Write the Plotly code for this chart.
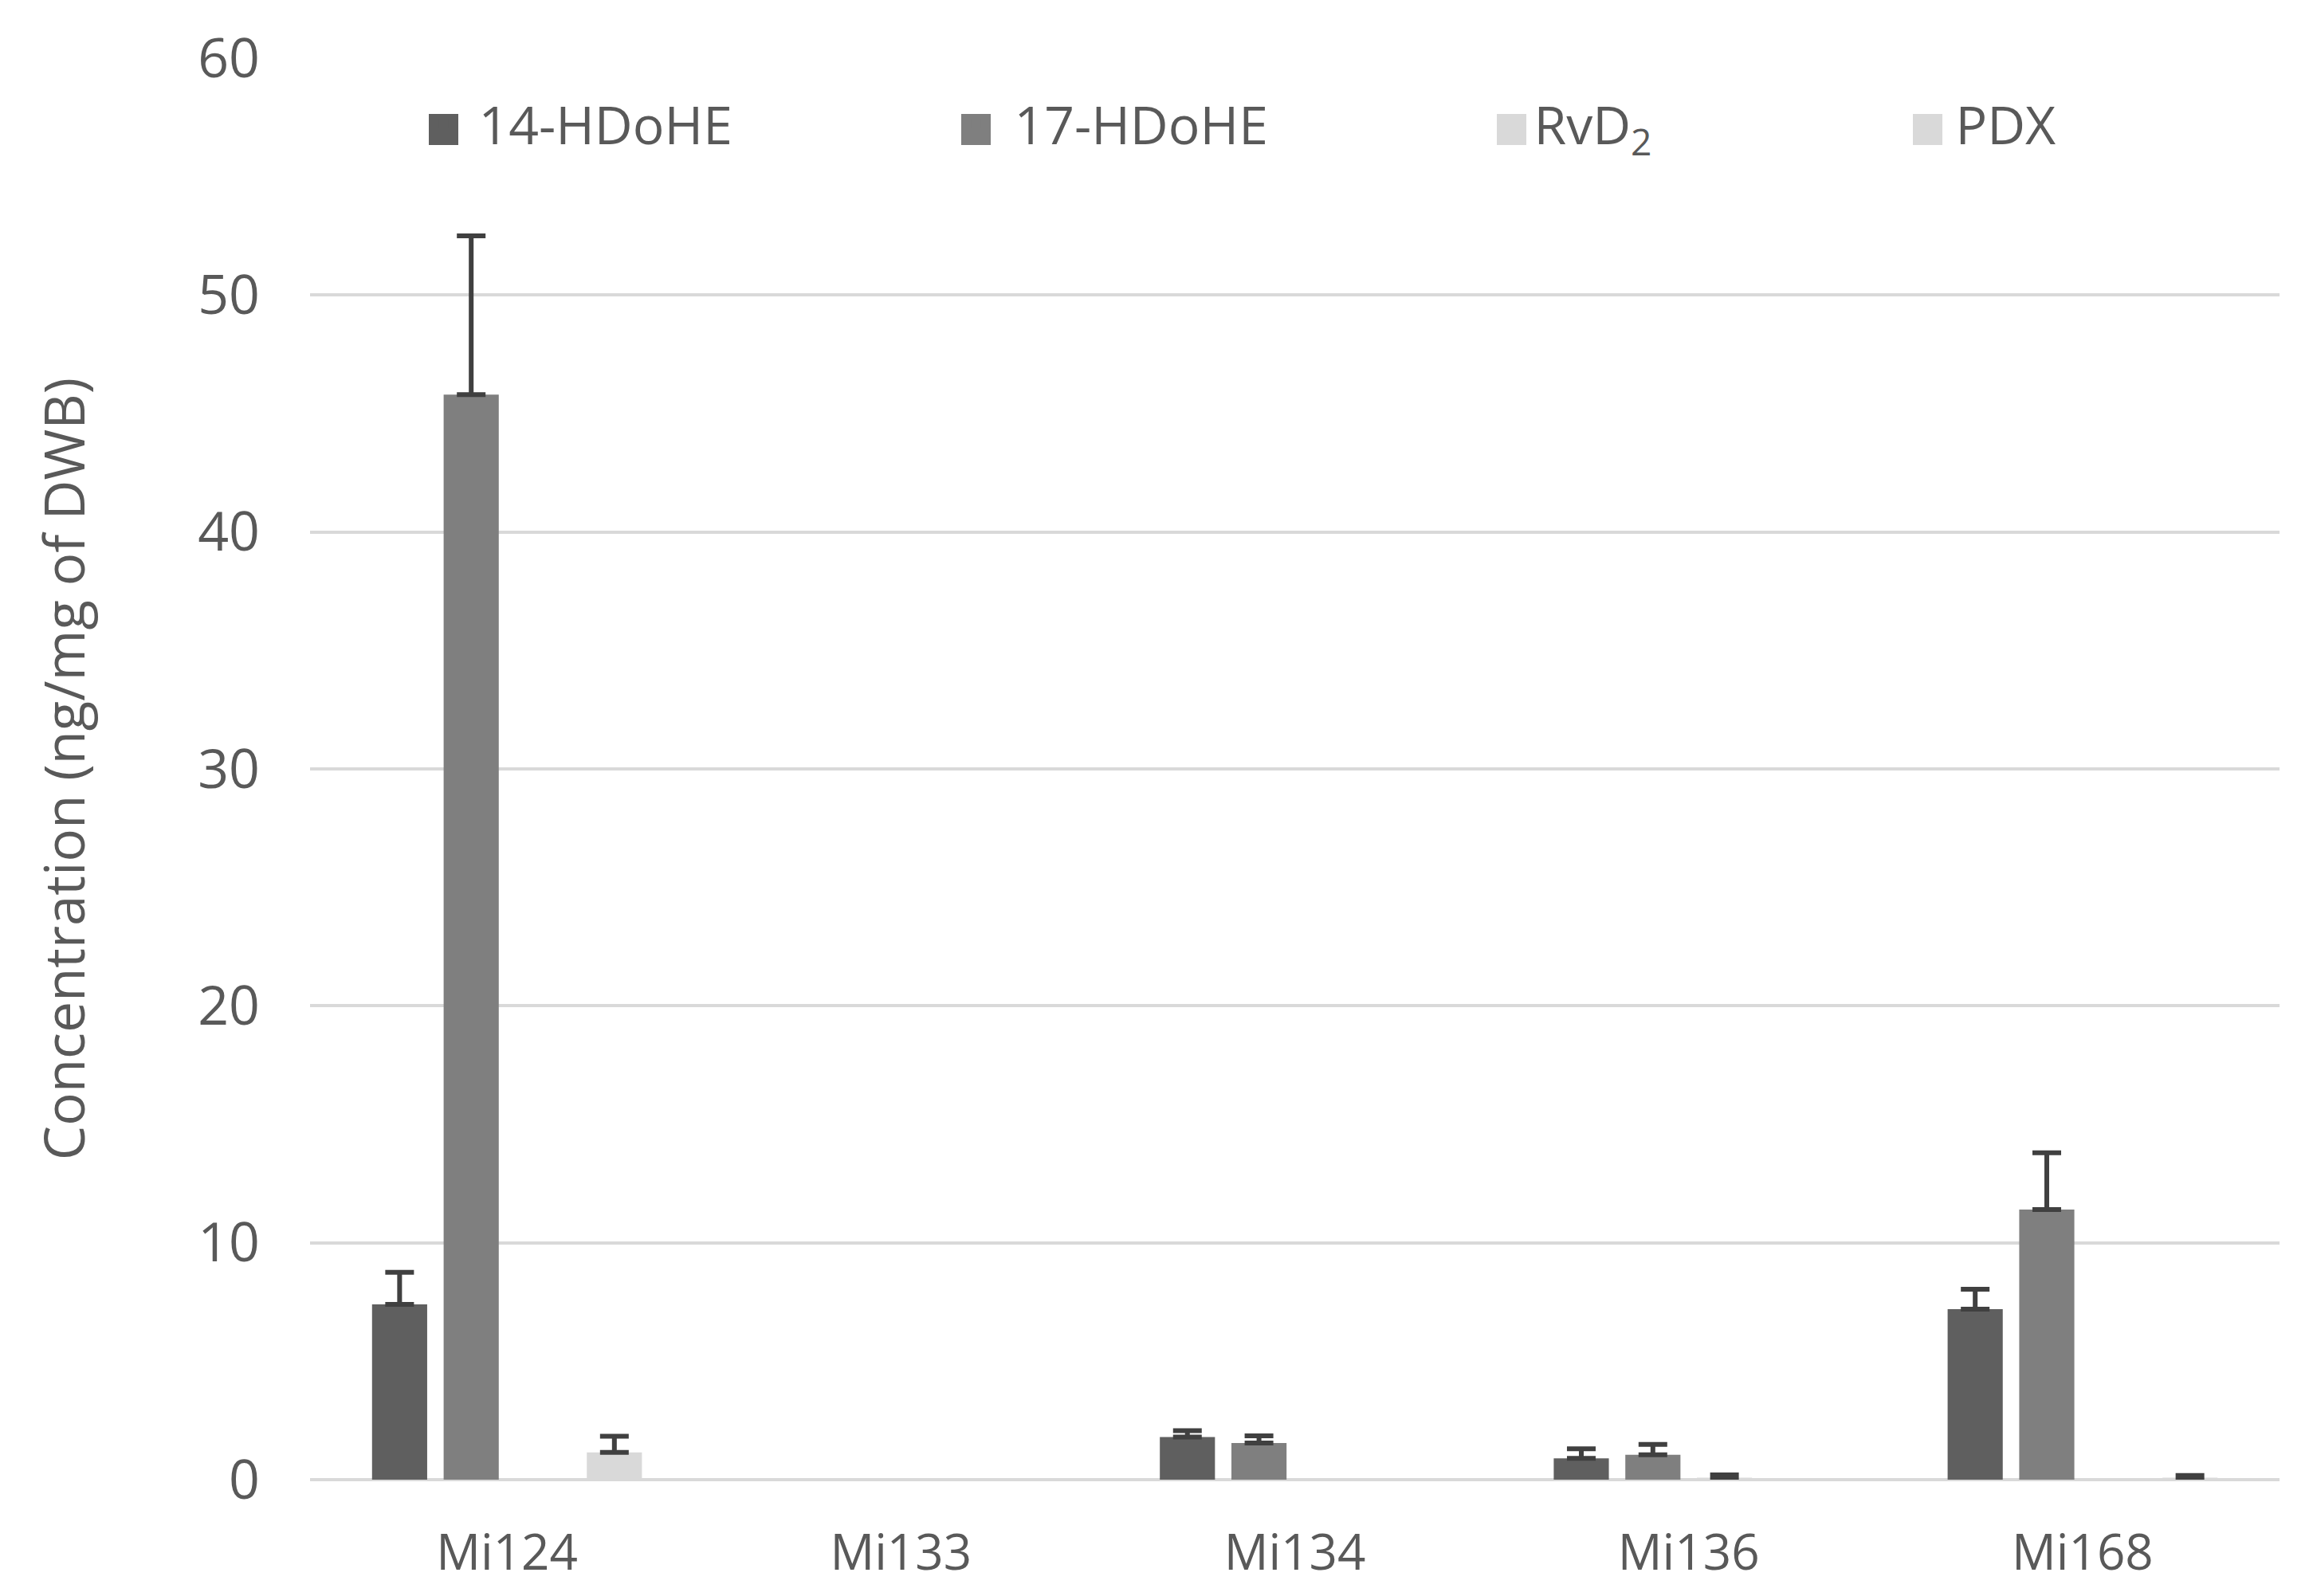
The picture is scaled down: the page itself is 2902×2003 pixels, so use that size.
import plotly.graph_objects as go

# samples on the x axis
samples = ['Mi124', 'Mi133', 'Mi134', 'Mi136', 'Mi168']

# mean concentrations (ng/mg of DWB); None = nothing drawn
hdohe14 = [7.4, None, 1.8, 0.9, 7.2]
hdohe17 = [45.8, None, 1.55, 1.05, 11.4]
rvd2 = [None, None, None, 0.08, None]
pdx = [1.15, None, None, None, 0.08]

# upper error bars
hdohe14_err = [1.35, 0, 0.27, 0.4, 0.84]
hdohe17_err = [6.7, 0, 0.3, 0.44, 2.4]
rvd2_err = [0, 0, 0, 0.12, 0]
pdx_err = [0.68, 0, 0, 0, 0.1]

names = ['14-HDoHE', '17-HDoHE', 'RvD<sub>2</sub>', 'PDX']
colors = ['#5f5f5f', '#7f7f7f', '#d9d9d9', '#d9d9d9']
values = [hdohe14, hdohe17, rvd2, pdx]
errors = [hdohe14_err, hdohe17_err, rvd2_err, pdx_err]

W, H = 2902, 2003
OFF = 8  # page body margin
ML, MR, MT, MB = 389 - OFF, 42 + OFF, 73 - OFF, 146 + OFF
FONT = 'Open Sans'
TXT = '#595959'

fig = go.Figure()
legends = ['legend2', 'legend3', 'legend4', 'legend5']
for name, col, val, err, lg in zip(names, colors, values, errors, legends):
    fig.add_trace(go.Bar(
        x=samples, y=val, name=name, legend=lg,
        marker=dict(color=col, line=dict(width=0)),
        error_y=dict(type='data', array=err, arrayminus=[0] * len(err),
                     symmetric=False, color='#404040', thickness=6, width=18),
    ))

# legend squares and label gaps as in the original (page pixels)
sq_left = [538, 1206, 1878, 2400]
item_w = [78, 86, 46, 60]
pw = W - ML - MR
ph = H - MT - MB
def px_x(p):
    return (p - OFF - ML) / pw
def px_y(p):
    return (H - MB - (p - OFF)) / ph

leg_layout = {}
for lg, sl, iw in zip(legends, sq_left, item_w):
    leg_layout[lg] = dict(
        x=px_x(sl + 18.5 - (iw / 2 + 5)), xanchor='left',
        y=px_y(155), yanchor='middle',
        orientation='h', bgcolor='rgba(0,0,0,0)', itemwidth=iw,
        font=dict(family=FONT, size=66, color=TXT),
    )

shapes = []
for sl, col in zip(sq_left, colors):
    shapes.append(dict(type='rect', xref='paper', yref='paper',
                       x0=px_x(sl), x1=px_x(sl + 37), y0=px_y(182), y1=px_y(143),
                       fillcolor=col, line=dict(width=0), layer='above'))

fig.update_layout(
    width=W, height=H,
    margin=dict(l=ML, r=MR, t=MT, b=MB),
    paper_bgcolor='white', plot_bgcolor='white',
    barmode='group', bargap=0.273, bargroupgap=0.23,
    font=dict(family=FONT, color=TXT),
    shapes=shapes,
    xaxis=dict(
        showgrid=False, showline=False, ticks='',
        tickfont=dict(family=FONT, size=62, color=TXT),
        ticklabelstandoff=50,
    ),
    yaxis=dict(
        range=[0, 60], dtick=10, showline=False, ticks='',
        gridcolor='#d9d9d9', gridwidth=4,
        zeroline=True, zerolinecolor='#d9d9d9', zerolinewidth=4,
        tickfont=dict(family=FONT, size=68, color=TXT),
        ticklabelstandoff=62,
        title=dict(text='Concentration (ng/mg of DWB)', standoff=119,
                   font=dict(family=FONT, size=69, color=TXT)),
    ),
    **leg_layout,
)

fig.write_html('out.html')
